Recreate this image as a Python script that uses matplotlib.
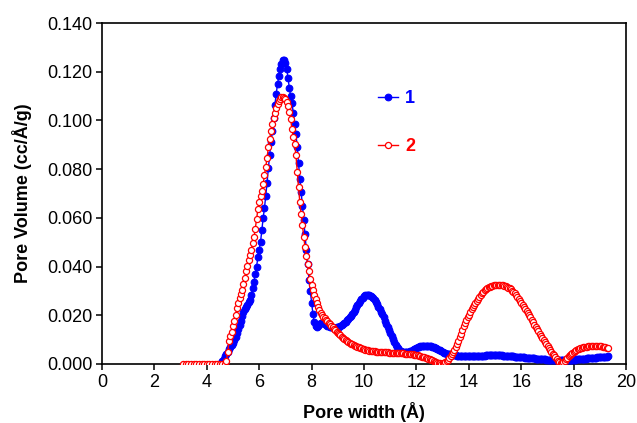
import matplotlib
matplotlib.use('Agg')
import matplotlib.pyplot as plt
from matplotlib.ticker import FormatStrFormatter

plt.rcParams['font.family'] = ['Liberation Sans', 'DejaVu Sans']

# ---------------- data ----------------
# Series 1 (blue, filled circles), steep part
blue_width_fine = [4.50, 4.55, 4.60, 4.65, 4.70, 4.75, 4.80, 4.85, 4.90, 4.95,
                   5.00, 5.05, 5.10, 5.15, 5.20, 5.25, 5.30, 5.35, 5.40, 5.45,
                   5.50, 5.55, 5.60, 5.65, 5.70, 5.75, 5.80, 5.85, 5.90, 5.95,
                   6.00, 6.05, 6.10, 6.15, 6.20, 6.25, 6.30, 6.35, 6.40, 6.45,
                   6.50, 6.55, 6.60, 6.65, 6.70, 6.75, 6.80, 6.85, 6.90, 6.95,
                   7.00, 7.05, 7.10, 7.15, 7.20, 7.25, 7.30, 7.35, 7.40, 7.45,
                   7.50, 7.55, 7.60, 7.65, 7.70, 7.75, 7.80, 7.85, 7.90, 7.95,
                   8.00, 8.05, 8.10, 8.15, 8.20, 8.25, 8.30, 8.35, 8.40, 8.45,
                   8.50]
blue_volume_fine = [0.0000, 0.0005, 0.0013, 0.0022, 0.0032, 0.0042, 0.0050, 0.0060, 0.0070, 0.0078,
                    0.0086, 0.0098, 0.0112, 0.0127, 0.0142, 0.0160, 0.0178, 0.0196, 0.0212, 0.0224,
                    0.0232, 0.0244, 0.0254, 0.0264, 0.0282, 0.0310, 0.0338, 0.0368, 0.0400, 0.0438,
                    0.0468, 0.0500, 0.0550, 0.0598, 0.0640, 0.0690, 0.0745, 0.0805, 0.0860, 0.0910,
                    0.0955, 0.1010, 0.1065, 0.1110, 0.1150, 0.1182, 0.1210, 0.1232, 0.1248, 0.1250,
                    0.1236, 0.1210, 0.1175, 0.1132, 0.1100, 0.1073, 0.1030, 0.0985, 0.0945, 0.0890,
                    0.0825, 0.0760, 0.0705, 0.0650, 0.0590, 0.0535, 0.0470, 0.0410, 0.0345, 0.0298,
                    0.0250, 0.0205, 0.0172, 0.0155, 0.0150, 0.0158, 0.0166, 0.0170, 0.0170, 0.0167,
                    0.0163]

# widths shared by both series beyond 8.5 A
width_tail = [8.55, 8.60, 8.65, 8.70, 8.75, 8.80, 8.85, 8.90, 8.95,
              9.00, 9.05, 9.10, 9.15, 9.20, 9.25, 9.30, 9.35, 9.40, 9.45, 9.50, 9.55, 9.60, 9.65, 9.70, 9.75, 9.80, 9.85, 9.90, 9.95,
              10.00, 10.05, 10.10, 10.15, 10.20, 10.25, 10.30, 10.35, 10.40, 10.45, 10.50, 10.55, 10.60, 10.65, 10.70, 10.75, 10.80, 10.85, 10.90, 10.95,
              11.00, 11.05, 11.10, 11.15, 11.20, 11.25, 11.30, 11.35, 11.40, 11.45, 11.50, 11.55, 11.60, 11.65, 11.70, 11.75, 11.80, 11.85, 11.90, 11.95,
              12.00, 12.05, 12.10, 12.15, 12.20, 12.25, 12.30, 12.35, 12.40, 12.45, 12.50, 12.55, 12.60, 12.65, 12.70, 12.75, 12.80, 12.85, 12.90, 12.95,
              13.00, 13.05, 13.10, 13.15, 13.20, 13.25, 13.30, 13.35, 13.40, 13.45, 13.50, 13.55, 13.60, 13.65, 13.70, 13.75, 13.80, 13.85, 13.90, 13.95,
              14.00, 14.05, 14.10, 14.15, 14.20, 14.25, 14.30, 14.35, 14.40, 14.45, 14.50, 14.55, 14.60, 14.65, 14.70, 14.75, 14.80, 14.85, 14.90, 14.95,
              15.00, 15.05, 15.10, 15.15, 15.20, 15.25, 15.30, 15.35, 15.40, 15.45, 15.50, 15.55, 15.60, 15.65, 15.70, 15.75, 15.80, 15.85, 15.90, 15.95,
              16.00, 16.05, 16.10, 16.15, 16.20, 16.25, 16.30, 16.35, 16.40, 16.45, 16.50, 16.55, 16.60, 16.65, 16.70, 16.75, 16.80, 16.85, 16.90, 16.95,
              17.00, 17.05, 17.10, 17.15, 17.20, 17.25, 17.30, 17.35, 17.40, 17.45, 17.50, 17.55, 17.60, 17.65, 17.70, 17.75, 17.80, 17.85, 17.90, 17.95,
              18.00, 18.05, 18.10, 18.15, 18.20, 18.25, 18.30, 18.35, 18.40, 18.45, 18.50, 18.55, 18.60, 18.65, 18.70, 18.75, 18.80, 18.85, 18.90, 18.95,
              19.00, 19.05, 19.10, 19.15, 19.20, 19.25, 19.30]

blue_volume_tail = [0.0160, 0.0158, 0.0155, 0.0153, 0.0151, 0.0150, 0.0149, 0.0149, 0.0150,
                    0.0151, 0.0153, 0.0156, 0.0160, 0.0164, 0.0169, 0.0174, 0.0180, 0.0186, 0.0192, 0.0199, 0.0206, 0.0214, 0.0223, 0.0232, 0.0241, 0.0250, 0.0258, 0.0266, 0.0273,
                    0.0278, 0.0282, 0.0284, 0.0284, 0.0283, 0.0280, 0.0275, 0.0269, 0.0262, 0.0254, 0.0246, 0.0236, 0.0226, 0.0215, 0.0204, 0.0191, 0.0178, 0.0165, 0.0152, 0.0139,
                    0.0126, 0.0113, 0.0101, 0.0090, 0.0080, 0.0071, 0.0064, 0.0058, 0.0054, 0.0051, 0.0049, 0.0048, 0.0048, 0.0049, 0.0050, 0.0052, 0.0054, 0.0057, 0.0060, 0.0063,
                    0.0066, 0.0068, 0.0070, 0.0072, 0.0073, 0.0074, 0.0075, 0.0075, 0.0075, 0.0075, 0.0074, 0.0073, 0.0071, 0.0069, 0.0067, 0.0065, 0.0062, 0.0059, 0.0056, 0.0053,
                    0.0050, 0.0047, 0.0045, 0.0043, 0.0041, 0.0039, 0.0038, 0.0037, 0.0036, 0.0035, 0.0035, 0.0034, 0.0034, 0.0034, 0.0034, 0.0033, 0.0033, 0.0033, 0.0033, 0.0033,
                    0.0033, 0.0033, 0.0033, 0.0033, 0.0033, 0.0033, 0.0033, 0.0033, 0.0034, 0.0034, 0.0034, 0.0034, 0.0034, 0.0035, 0.0035, 0.0035, 0.0035, 0.0035, 0.0035, 0.0035,
                    0.0035, 0.0035, 0.0035, 0.0035, 0.0035, 0.0035, 0.0034, 0.0034, 0.0034, 0.0033, 0.0033, 0.0032, 0.0032, 0.0031, 0.0031, 0.0030, 0.0030, 0.0029, 0.0029, 0.0028,
                    0.0028, 0.0027, 0.0027, 0.0026, 0.0026, 0.0025, 0.0025, 0.0024, 0.0024, 0.0023, 0.0023, 0.0022, 0.0022, 0.0021, 0.0021, 0.0020, 0.0020, 0.0019, 0.0019, 0.0018,
                    0.0018, 0.0017, 0.0017, 0.0016, 0.0016, 0.0016, 0.0016, 0.0015, 0.0015, 0.0015, 0.0015, 0.0015, 0.0015, 0.0015, 0.0016, 0.0016, 0.0016, 0.0016, 0.0017, 0.0017,
                    0.0018, 0.0018, 0.0019, 0.0019, 0.0020, 0.0020, 0.0021, 0.0021, 0.0022, 0.0022, 0.0023, 0.0023, 0.0024, 0.0024, 0.0025, 0.0025, 0.0026, 0.0026, 0.0027, 0.0027,
                    0.0028, 0.0028, 0.0029, 0.0029, 0.0030, 0.0030, 0.0031]

# Series 2 (red, open circles)
red_width_low = [3.1, 3.2, 3.3, 3.4, 3.5, 3.6, 3.7, 3.8, 3.9, 4.0,
                 4.1, 4.2, 4.3, 4.4, 4.5, 4.6, 4.7]
red_volume_low = [0.0, 0.0, 0.0, 0.0, 0.0, 0.0, 0.0, 0.0, 0.0, 0.0,
                  0.0, 0.0, 0.0, 0.0, 0.0, 0.0, 0.0]

red_width_fine = [4.75, 4.80, 4.85, 4.90, 4.95,
                  5.00, 5.05, 5.10, 5.15, 5.20, 5.25, 5.30, 5.35, 5.40, 5.45,
                  5.50, 5.55, 5.60, 5.65, 5.70, 5.75, 5.80, 5.85, 5.90, 5.95,
                  6.00, 6.05, 6.10, 6.15, 6.20, 6.25, 6.30, 6.35, 6.40, 6.45,
                  6.50, 6.55, 6.60, 6.65, 6.70, 6.75, 6.80, 6.85, 6.90, 6.95,
                  7.00, 7.05, 7.10, 7.15, 7.20, 7.25, 7.30, 7.35, 7.40, 7.45,
                  7.50, 7.55, 7.60, 7.65, 7.70, 7.75, 7.80, 7.85, 7.90, 7.95,
                  8.00, 8.05, 8.10, 8.15, 8.20, 8.25, 8.30, 8.35, 8.40, 8.45,
                  8.50]
red_volume_fine = [0.0012, 0.0050, 0.0095, 0.0115, 0.0132,
                   0.0155, 0.0178, 0.0202, 0.0228, 0.0252, 0.0272, 0.0288, 0.0305, 0.0328, 0.0355,
                   0.0380, 0.0402, 0.0425, 0.0448, 0.0470, 0.0495, 0.0520, 0.0555, 0.0595, 0.0635,
                   0.0665, 0.0690, 0.0710, 0.0738, 0.0775, 0.0810, 0.0845, 0.0890, 0.0925, 0.0955,
                   0.0985, 0.1010, 0.1032, 0.1050, 0.1066, 0.1080, 0.1090, 0.1096, 0.1097, 0.1093,
                   0.1086, 0.1076, 0.1060, 0.1035, 0.1005, 0.0965, 0.0930, 0.0905, 0.0860, 0.0790,
                   0.0725, 0.0665, 0.0615, 0.0570, 0.0520, 0.0480, 0.0445, 0.0410, 0.0380, 0.0350,
                   0.0325, 0.0302, 0.0282, 0.0265, 0.0250, 0.0235, 0.0222, 0.0210, 0.0200, 0.0194,
                   0.0188]

red_volume_tail = [0.0182, 0.0176, 0.0169, 0.0163, 0.0156, 0.0150, 0.0144, 0.0138, 0.0132,
                   0.0127, 0.0122, 0.0117, 0.0112, 0.0108, 0.0103, 0.0099, 0.0095, 0.0091, 0.0087, 0.0084, 0.0081, 0.0078, 0.0075, 0.0073, 0.0070, 0.0068, 0.0066, 0.0064, 0.0062,
                   0.0060, 0.0058, 0.0057, 0.0056, 0.0055, 0.0054, 0.0053, 0.0052, 0.0052, 0.0051, 0.0051, 0.0050, 0.0050, 0.0049, 0.0049, 0.0048, 0.0048, 0.0048, 0.0048, 0.0047,
                   0.0047, 0.0046, 0.0046, 0.0046, 0.0046, 0.0045, 0.0045, 0.0045, 0.0045, 0.0044, 0.0044, 0.0043, 0.0043, 0.0042, 0.0042, 0.0041, 0.0040, 0.0039, 0.0038, 0.0037,
                   0.0036, 0.0035, 0.0033, 0.0032, 0.0030, 0.0028, 0.0027, 0.0025, 0.0023, 0.0021, 0.0019, 0.0017, 0.0015, 0.0012, 0.0010, 0.0008, 0.0006, 0.0004, 0.0003, 0.0002,
                   0.0003, 0.0005, 0.0008, 0.0012, 0.0018, 0.0025, 0.0032, 0.0040, 0.0048, 0.0057, 0.0068, 0.0081, 0.0095, 0.0110, 0.0125, 0.0140, 0.0155, 0.0168, 0.0180, 0.0192,
                   0.0203, 0.0214, 0.0225, 0.0234, 0.0243, 0.0252, 0.0260, 0.0268, 0.0276, 0.0283, 0.0290, 0.0296, 0.0302, 0.0307, 0.0311, 0.0315, 0.0318, 0.0320, 0.0322, 0.0324,
                   0.0325, 0.0326, 0.0326, 0.0326, 0.0326, 0.0325, 0.0324, 0.0322, 0.0320, 0.0317, 0.0314, 0.0310, 0.0306, 0.0301, 0.0296, 0.0290, 0.0283, 0.0276, 0.0268, 0.0260,
                   0.0252, 0.0244, 0.0235, 0.0227, 0.0218, 0.0209, 0.0200, 0.0191, 0.0181, 0.0172, 0.0162, 0.0153, 0.0143, 0.0134, 0.0125, 0.0116, 0.0107, 0.0098, 0.0090, 0.0081,
                   0.0072, 0.0064, 0.0056, 0.0049, 0.0042, 0.0035, 0.0028, 0.0021, 0.0014, 0.0008, 0.0004, 0.0004, 0.0008, 0.0014, 0.0020, 0.0026, 0.0032, 0.0037, 0.0042, 0.0046,
                   0.0050, 0.0054, 0.0057, 0.0060, 0.0062, 0.0064, 0.0066, 0.0068, 0.0069, 0.0070, 0.0071, 0.0072, 0.0073, 0.0073, 0.0074, 0.0074, 0.0074, 0.0074, 0.0074, 0.0074,
                   0.0073, 0.0072, 0.0071, 0.0070, 0.0068, 0.0066, 0.0064]

series_labels = ['1', '2']
x_ticks = [0, 2, 4, 6, 8, 10, 12, 14, 16, 18, 20]
y_ticks = [0.000, 0.020, 0.040, 0.060, 0.080, 0.100, 0.120, 0.140]

# ---------------- figure ----------------
blue_x = blue_width_fine + width_tail
blue_y = blue_volume_fine + blue_volume_tail
red_x = red_width_low + red_width_fine + width_tail
red_y = red_volume_low + red_volume_fine + red_volume_tail

BLUE = '#0000FF'
RED = '#FF0000'

fig = plt.figure(figsize=(6.37, 4.23), dpi=100)
ax = fig.add_axes([0.160, 0.1395, 0.823, 0.8061])

l1, = ax.plot(blue_x, blue_y, color=BLUE, lw=1.0, marker='o', ms=4.8,
              mfc=BLUE, mec=BLUE, mew=0.8, label=series_labels[0], zorder=3)
l2, = ax.plot(red_x, red_y, color=RED, lw=1.0, marker='o', ms=4.4,
              mfc='white', mec=RED, mew=0.9, label=series_labels[1], zorder=4)

ax.set_xlim(0, 20)
ax.set_ylim(0, 0.14)
ax.set_xticks(x_ticks)
ax.set_yticks(y_ticks)
ax.yaxis.set_major_formatter(FormatStrFormatter('%.3f'))
ax.tick_params(direction='out', length=4, width=1.1, labelsize=13,
               top=False, right=False, pad=3)
for sp in ax.spines.values():
    sp.set_linewidth(1.2)

ax.set_xlabel('Pore width (Å)', fontsize=13, fontweight='bold', labelpad=8)
ax.set_ylabel('Pore Volume (cc/Å/g)', fontsize=13, fontweight='bold', labelpad=11)

leg = ax.legend(handles=[l1, l2], loc='upper left', bbox_to_anchor=(0.527, 0.804),
                frameon=False, borderpad=0, borderaxespad=0, handlelength=1.1,
                handletextpad=0.4, labelspacing=1.75, numpoints=1,
                prop={'size': 13, 'weight': 'bold'})
for txt, col in zip(leg.get_texts(), [BLUE, RED]):
    txt.set_color(col)

fig.savefig('out.png', dpi=100)
